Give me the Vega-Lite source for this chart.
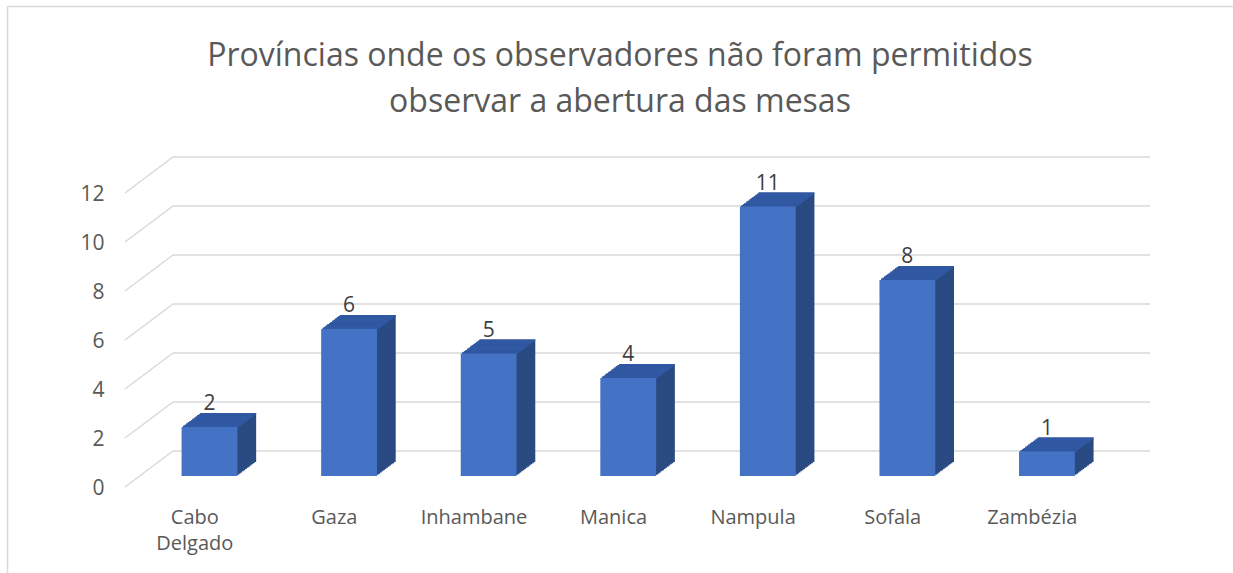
{
  "$schema": "https://vega.github.io/schema/vega-lite/v6.json",
  "width": 1226,
  "height": 567,
  "autosize": {"type": "none"},
  "padding": {"left": 7, "top": 6, "right": 0, "bottom": 0},
  "background": "white",
  "config": {"view": {"stroke": null}, "font": "Open Sans"},
  "title": {
    "text": ["Províncias onde os observadores não foram permitidos", "observar a abertura das mesas"],
    "fontSize": 32,
    "font": "Open Sans",
    "fontWeight": "normal",
    "color": "#595959",
    "lineHeight": 46,
    "anchor": "middle",
    "frame": "group",
    "offset": -113
  },
  "resolve": {"scale": {"x": "independent"}},
  "encoding": {
    "y": {
      "field": "n",
      "type": "quantitative",
      "scale": {"domain": [-3.51, 19.633], "nice": false, "zero": false},
      "axis": {
        "values": [0, 2, 4, 6, 8, 10, 12],
        "title": null,
        "grid": false,
        "ticks": false,
        "tickSize": 0,
        "domain": true,
        "domainColor": "#D9D9D9",
        "domainWidth": 1.5,
        "labelPadding": -97,
        "labelFontSize": 21,
        "labelColor": "#595959",
        "labelFont": "Open Sans",
        "labelAlign": "right",
        "labelBaseline": "middle",
        "labelOffset": 1,
        "labelFlush": false,
        "labelOverlap": false,
        "labelBound": false
      }
    }
  },
  "layer": [
    {
      "data": {"values": [{"n": 0}, {"n": 2}, {"n": 4}, {"n": 6}, {"n": 8}, {"n": 10}, {"n": 12}]},
      "encoding": {
        "x": {
          "datum": 0,
          "type": "quantitative",
          "scale": {"domain": [-0.8454, 7.9385], "nice": false, "zero": false},
          "axis": {"orient": "top", "labels": false, "ticks": false, "tickSize": 0, "grid": false, "title": null, "domain": true, "domainColor": "#D9D9D9", "domainWidth": 1.5}
        }
      },
      "layer": [
        {
          "mark": {"type": "rule", "color": "#D9D9D9", "strokeWidth": 1.5, "xOffset": 48, "x2Offset": 48, "yOffset": -36},
          "encoding": {"x2": {"datum": 7}}
        },
        {
          "mark": {"type": "rule", "color": "#D9D9D9", "strokeWidth": 1.5, "x2Offset": 48, "y2Offset": -36},
          "encoding": {"x2": {"datum": 0}, "y2": {"field": "n"}}
        }
      ]
    },
    {
      "data": {
        "values": [
          {"Provincia": "Cabo Delgado", "n": 2},
          {"Provincia": "Gaza", "n": 6},
          {"Provincia": "Inhambane", "n": 5},
          {"Provincia": "Manica", "n": 4},
          {"Provincia": "Nampula", "n": 11},
          {"Provincia": "Sofala", "n": 8},
          {"Provincia": "Zambézia", "n": 1}
        ]
      },
      "encoding": {
        "x": {
          "field": "Provincia",
          "type": "nominal",
          "sort": null,
          "scale": {"paddingInner": 0, "paddingOuter": 0.892, "align": 0.474},
          "axis": {
            "title": null,
            "domain": false,
            "ticks": false,
            "tickSize": 0,
            "grid": false,
            "labelPadding": -66,
            "labelFontSize": 20,
            "labelColor": "#595959",
            "labelFont": "Open Sans",
            "labelAngle": 0,
            "labelBaseline": "top",
            "labelLineHeight": 26,
            "labelOverlap": false,
            "labelFlush": false,
            "labelBound": false,
            "labelExpr": "datum.label == 'Cabo Delgado' ? ['Cabo', 'Delgado'] : datum.label"
          }
        }
      },
      "layer": [
        {"mark": {"type": "bar", "color": "#2A4A82", "width": {"band": 0.4}, "xOffset": 33.42, "yOffset": -25, "y2Offset": -25}, "encoding": {"y2": {"datum": 0}}},
        {"mark": {"type": "bar", "color": "#2A4A82", "width": {"band": 0.4}, "xOffset": 31.86, "yOffset": -23.83, "y2Offset": -23.83}, "encoding": {"y2": {"datum": 0}}},
        {"mark": {"type": "bar", "color": "#2A4A82", "width": {"band": 0.4}, "xOffset": 30.3, "yOffset": -22.67, "y2Offset": -22.67}, "encoding": {"y2": {"datum": 0}}},
        {"mark": {"type": "bar", "color": "#2A4A82", "width": {"band": 0.4}, "xOffset": 28.74, "yOffset": -21.5, "y2Offset": -21.5}, "encoding": {"y2": {"datum": 0}}},
        {"mark": {"type": "bar", "color": "#2A4A82", "width": {"band": 0.4}, "xOffset": 27.18, "yOffset": -20.33, "y2Offset": -20.33}, "encoding": {"y2": {"datum": 0}}},
        {"mark": {"type": "bar", "color": "#2A4A82", "width": {"band": 0.4}, "xOffset": 25.62, "yOffset": -19.17, "y2Offset": -19.17}, "encoding": {"y2": {"datum": 0}}},
        {"mark": {"type": "bar", "color": "#2A4A82", "width": {"band": 0.4}, "xOffset": 24.06, "yOffset": -18, "y2Offset": -18}, "encoding": {"y2": {"datum": 0}}},
        {"mark": {"type": "bar", "color": "#2A4A82", "width": {"band": 0.4}, "xOffset": 22.5, "yOffset": -16.83, "y2Offset": -16.83}, "encoding": {"y2": {"datum": 0}}},
        {"mark": {"type": "bar", "color": "#2A4A82", "width": {"band": 0.4}, "xOffset": 20.94, "yOffset": -15.67, "y2Offset": -15.67}, "encoding": {"y2": {"datum": 0}}},
        {"mark": {"type": "bar", "color": "#2A4A82", "width": {"band": 0.4}, "xOffset": 19.38, "yOffset": -14.5, "y2Offset": -14.5}, "encoding": {"y2": {"datum": 0}}},
        {"mark": {"type": "bar", "color": "#2A4A82", "width": {"band": 0.4}, "xOffset": 17.82, "yOffset": -13.33, "y2Offset": -13.33}, "encoding": {"y2": {"datum": 0}}},
        {"mark": {"type": "bar", "color": "#2A4A82", "width": {"band": 0.4}, "xOffset": 16.26, "yOffset": -12.17, "y2Offset": -12.17}, "encoding": {"y2": {"datum": 0}}},
        {"mark": {"type": "bar", "color": "#3159A3", "width": {"band": 0.4}, "xOffset": 33.42, "yOffset": -25, "y2Offset": -23.43}, "encoding": {"y2": {"field": "n"}}},
        {"mark": {"type": "bar", "color": "#3159A3", "width": {"band": 0.4}, "xOffset": 31.86, "yOffset": -23.83, "y2Offset": -22.27}, "encoding": {"y2": {"field": "n"}}},
        {"mark": {"type": "bar", "color": "#3159A3", "width": {"band": 0.4}, "xOffset": 30.3, "yOffset": -22.67, "y2Offset": -21.1}, "encoding": {"y2": {"field": "n"}}},
        {"mark": {"type": "bar", "color": "#3159A3", "width": {"band": 0.4}, "xOffset": 28.74, "yOffset": -21.5, "y2Offset": -19.93}, "encoding": {"y2": {"field": "n"}}},
        {"mark": {"type": "bar", "color": "#3159A3", "width": {"band": 0.4}, "xOffset": 27.18, "yOffset": -20.33, "y2Offset": -18.77}, "encoding": {"y2": {"field": "n"}}},
        {"mark": {"type": "bar", "color": "#3159A3", "width": {"band": 0.4}, "xOffset": 25.62, "yOffset": -19.17, "y2Offset": -17.6}, "encoding": {"y2": {"field": "n"}}},
        {"mark": {"type": "bar", "color": "#3159A3", "width": {"band": 0.4}, "xOffset": 24.06, "yOffset": -18, "y2Offset": -16.43}, "encoding": {"y2": {"field": "n"}}},
        {"mark": {"type": "bar", "color": "#3159A3", "width": {"band": 0.4}, "xOffset": 22.5, "yOffset": -16.83, "y2Offset": -15.27}, "encoding": {"y2": {"field": "n"}}},
        {"mark": {"type": "bar", "color": "#3159A3", "width": {"band": 0.4}, "xOffset": 20.94, "yOffset": -15.67, "y2Offset": -14.1}, "encoding": {"y2": {"field": "n"}}},
        {"mark": {"type": "bar", "color": "#3159A3", "width": {"band": 0.4}, "xOffset": 19.38, "yOffset": -14.5, "y2Offset": -12.93}, "encoding": {"y2": {"field": "n"}}},
        {"mark": {"type": "bar", "color": "#3159A3", "width": {"band": 0.4}, "xOffset": 17.82, "yOffset": -13.33, "y2Offset": -11.77}, "encoding": {"y2": {"field": "n"}}},
        {"mark": {"type": "bar", "color": "#3159A3", "width": {"band": 0.4}, "xOffset": 16.26, "yOffset": -12.17, "y2Offset": -10.6}, "encoding": {"y2": {"field": "n"}}},
        {"mark": {"type": "bar", "color": "#4472C4", "width": {"band": 0.4}, "xOffset": 14.7, "yOffset": -11, "y2Offset": -11}, "encoding": {"y2": {"datum": 0}}},
        {"mark": {"type": "text", "dx": 14.7, "dy": -28, "baseline": "alphabetic", "fontSize": 21, "color": "#404040", "font": "Open Sans"}, "encoding": {"text": {"field": "n", "type": "quantitative"}}}
      ]
    }
  ]
}
